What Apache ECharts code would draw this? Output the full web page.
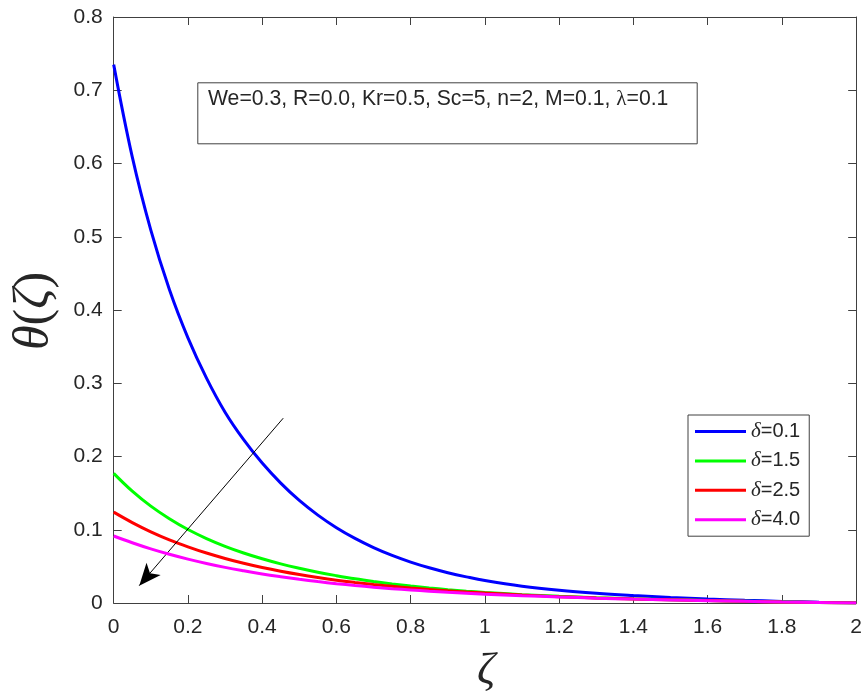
<!DOCTYPE html>
<html>
<head>
<meta charset="utf-8">
<script src="https://cdn.jsdelivr.net/npm/echarts@6/dist/echarts.min.js"></script>
<style>
  html, body { margin: 0; padding: 0; background: #fff; }
  #chart { width: 865px; height: 698px; }
</style>
</head>
<body>
<div id="chart"></div>
<script>
// Similarity variable ζ
const zeta = [0, 0.05, 0.1, 0.15, 0.2, 0.25, 0.3, 0.35, 0.4, 0.45, 0.5,
  0.55, 0.6, 0.65, 0.7, 0.75, 0.8, 0.85, 0.9, 0.95, 1.0,
  1.1, 1.2, 1.3, 1.4, 1.5, 1.6, 1.7, 1.8, 1.9, 2.0];

// Temperature profiles θ(ζ) for each δ
const thetaD01 = [0.735, 0.609, 0.509, 0.428, 0.362, 0.307, 0.2605, 0.223, 0.191, 0.1637, 0.140,
  0.120, 0.1028, 0.0882, 0.0757, 0.0650, 0.0559, 0.0481, 0.0414, 0.0357, 0.0307,
  0.0230, 0.0174, 0.0133, 0.0102, 0.0076, 0.0055, 0.0037, 0.0022, 0.0010, 0];
const thetaD15 = [0.177, 0.1527, 0.1322, 0.1150, 0.1003, 0.0880, 0.0774, 0.0683, 0.0604, 0.0534, 0.0474,
  0.0420, 0.0373, 0.0330, 0.0293, 0.0260, 0.0231, 0.0205, 0.0182, 0.0162, 0.0144,
  0.0114, 0.0091, 0.0072, 0.0057, 0.0045, 0.0034, 0.0024, 0.0015, 0.0007, 0];
const thetaD25 = [0.124, 0.1098, 0.0972, 0.0862, 0.0767, 0.0682, 0.0608, 0.0542, 0.0484, 0.0433, 0.0388,
  0.0348, 0.0312, 0.0281, 0.0253, 0.0228, 0.0205, 0.0185, 0.0167, 0.0151, 0.0137,
  0.0109, 0.0087, 0.0069, 0.0055, 0.0043, 0.0033, 0.0023, 0.0014, 0.0007, 0];
const thetaD40 = [0.0915, 0.0823, 0.0739, 0.0665, 0.0599, 0.0540, 0.0486, 0.0439, 0.0396, 0.0358, 0.0323,
  0.0292, 0.0264, 0.0239, 0.0216, 0.0196, 0.0178, 0.0161, 0.0146, 0.0133, 0.0121,
  0.0100, 0.0082, 0.0066, 0.0053, 0.0042, 0.0032, 0.0023, 0.0014, 0.0007, 0];

const seriesNames = ['δ=0.1', 'δ=1.5', 'δ=2.5', 'δ=4.0'];
const seriesColors = ['#0000ff', '#00ff00', '#ff0000', '#ff00ff'];
const seriesValues = [thetaD01, thetaD15, thetaD25, thetaD40];

// Arrow showing increasing δ: [start, tip] in data coordinates
const arrowStart = [0.4566, 0.2523];
const arrowTip = [0.0688, 0.0237];

const paramText = 'We=0.3, R=0.0, Kr=0.5, Sc=5, n=2, M=0.1, ';

const xTicks = { min: 0, max: 2, interval: 0.2 };
const yTicks = { min: 0, max: 0.8, interval: 0.1 };

const axisColor = '#404040';
const labelColor = '#262626';
const sans = '"Liberation Sans", Arial, sans-serif';
const serif = '"Liberation Serif", "Times New Roman", serif';

const chart = echarts.init(document.getElementById('chart'), null, { renderer: 'canvas' });

function boxAxis(pos, ticks, showLabel) {
  return {
    type: 'value', position: pos, min: ticks.min, max: ticks.max, interval: ticks.interval,
    axisLine: { show: true, onZero: false, lineStyle: { color: axisColor, width: 1 } },
    axisTick: { show: true, inside: true, length: 8, lineStyle: { color: axisColor, width: 1 } },
    axisLabel: { show: showLabel, color: labelColor, fontFamily: sans, fontSize: 21,
      margin: pos === 'bottom' ? 14 : 11 },
    splitLine: { show: false }
  };
}

const series = seriesNames.map((name, i) => ({
  name: name,
  type: 'line',
  xAxisIndex: 0, yAxisIndex: 0,
  data: zeta.map((z, k) => [z, seriesValues[i][k]]),
  showSymbol: false, symbol: 'none',
  smooth: 0.4,
  lineStyle: { color: seriesColors[i], width: 3 },
  itemStyle: { color: seriesColors[i] },
  emphasis: { disabled: true },
  z: 2 + i
}));

series.push({
  type: 'line', data: [], xAxisIndex: 0, yAxisIndex: 0, z: 10,
  markLine: {
    silent: true, animation: false,
    symbol: ['none', 'arrow'], symbolSize: [14, 22],
    lineStyle: { color: '#000', width: 1, type: 'solid' },
    label: { show: false },
    emphasis: { disabled: true },
    data: [[{ coord: arrowStart }, { coord: arrowTip }]]
  }
});

chart.setOption({
  animation: false,
  backgroundColor: '#fff',
  grid: { left: 113.7, right: 6.7, top: 17, bottom: 95, containLabel: false },
  xAxis: [boxAxis('bottom', xTicks, true), boxAxis('top', xTicks, false)],
  yAxis: [boxAxis('left', yTicks, true), boxAxis('right', yTicks, false)],
  legend: {
    data: seriesNames,
    orient: 'vertical', left: 688, top: 415,
    padding: [6, 9, 6, 7],
    itemWidth: 51, itemHeight: 3, itemGap: 8.4,
    icon: 'rect',
    borderColor: axisColor, borderWidth: 1, borderRadius: 0,
    backgroundColor: '#fff',
    selectedMode: false,
    formatter: name => '{g|δ}{t|' + name.slice(1) + '}',
    textStyle: {
      rich: {
        g: { fontFamily: serif, fontStyle: 'italic', fontSize: 21, color: labelColor, lineHeight: 22 },
        t: { fontFamily: sans, fontSize: 20, color: labelColor, lineHeight: 22 }
      }
    }
  },
  graphic: [
    {
      type: 'rect', left: 197.3, top: 82.3, z: 20,
      shape: { width: 499.4, height: 61 },
      style: { fill: '#fff', stroke: axisColor, lineWidth: 1 }
    },
    {
      type: 'text', x: 208, y: 99, z: 21,
      style: {
        text: '{a|' + paramText + '}{l|λ}{a|=0.1}',
        verticalAlign: 'middle',
        rich: {
          a: { fontFamily: sans, fontSize: 21.2, fill: labelColor },
          l: { fontFamily: serif, fontSize: 21.2, fill: labelColor }
        }
      }
    },
    {
      type: 'text', x: 486, y: 671, z: 21,
      style: {
        text: 'ζ', font: 'italic 45px ' + serif, fill: labelColor,
        align: 'center', verticalAlign: 'middle'
      }
    },
    {
      type: 'text', x: 35, y: 311, rotation: Math.PI / 2, z: 21,
      style: {
        text: '{i|θ}{n|(}{i|ζ}{n|)}',
        align: 'center', verticalAlign: 'middle',
        rich: {
          i: { fontFamily: serif, fontStyle: 'italic', fontSize: 50, fill: labelColor },
          n: { fontFamily: serif, fontSize: 50, fill: labelColor }
        }
      }
    }
  ],
  series: series
});
</script>
</body>
</html>
